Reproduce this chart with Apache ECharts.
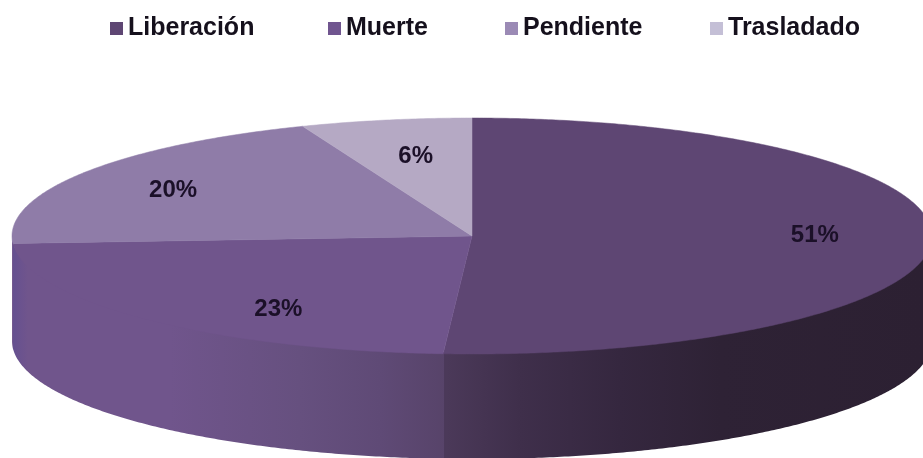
<!DOCTYPE html>
<html>
<head>
<meta charset="utf-8">
<style>html,body{margin:0;padding:0;background:#fff}#c{width:923px;height:458px}</style>
<script src="https://cdn.jsdelivr.net/npm/echarts@6/dist/echarts.min.js"></script>
</head>
<body>
<div id="c"></div>
<script>
const categories = ['Liberación', 'Muerte', 'Pendiente', 'Trasladado'];
const values = [51, 23, 20, 6];
const labels = ['51%', '23%', '20%', '6%'];
const topColors = ['#5e4673', '#70558c', '#8f7ca8', '#b5a9c4'];
const legendColors = ['#5e4673', '#70558f', '#9b8ab5', '#c4bfd6'];
const legendLeft = [105, 323, 500, 705];
const wallStops = [
  [[447, '#4b3959'], [520, '#3f2f4b'], [620, '#35273f'], [720, '#2e2235'], [923, '#2c2032']],
  [[13, '#655090'], [28, '#70558c'], [170, '#70558c'], [300, '#66507f'], [380, '#5f4a76'], [447, '#574369']],
  [[0, '#70558c'], [40, '#70558c']],
  [[0, '#70558c'], [40, '#70558c']]
];
const labelNudge = [[21, -3], [34, 15], [-27, -1], [4, 2]];

const cx = 472, cy = 236, rx = 460, ry = 118, depth = 105;
const total = values.reduce((a, b) => a + b, 0);
const TAU = Math.PI * 2;
const pt = (t, dy) => [cx + rx * Math.sin(t), cy - ry * Math.cos(t) + (dy || 0)];

function arc(a, b, dy) {
  const out = [];
  const n = Math.max(2, Math.ceil(Math.abs(b - a) * 120));
  for (let i = 0; i <= n; i++) out.push(pt(a + (b - a) * i / n, dy));
  return out;
}

function slice(i) {
  const before = values.slice(0, i).reduce((a, b) => a + b, 0);
  const a = before / total * TAU, b = (before + values[i]) / total * TAU;
  return { a, b };
}

function renderWall(i) {
  return function () {
    const s = slice(i);
    // walls overlap a hair so no seam shows between neighbours
    const a = Math.max(s.a - 0.002, Math.PI / 2), b = Math.min(s.b, Math.PI * 1.5);
    if (b <= a) return { type: 'group', children: [] };
    const pts = arc(a, b, -1.5).concat(arc(b, a, depth));
    const stops = wallStops[i];
    const x0 = stops[0][0], x1 = stops[stops.length - 1][0];
    const fill = new echarts.graphic.LinearGradient(x0, 0, x1, 0,
      stops.map(p => ({ offset: (p[0] - x0) / (x1 - x0), color: p[1] })), true);
    return { type: 'polygon', shape: { points: pts }, style: { fill: fill }, silent: true };
  };
}

function renderTop(i) {
  return function () {
    const s = slice(i);
    const pts = [[cx, cy]].concat(arc(s.a, s.b, 0));
    const mid = (s.a + s.b) / 2;
    const p = [cx + rx * 0.7 * Math.sin(mid) + labelNudge[i][0], cy - ry * 0.7 * Math.cos(mid) + labelNudge[i][1]];
    return {
      type: 'group',
      children: [
        { type: 'polygon', shape: { points: pts }, style: { fill: topColors[i], stroke: topColors[i], lineWidth: 0.5 }, z2: 1, silent: true },
        { type: 'text', x: p[0], y: p[1], z2: 5, silent: true,
          style: { text: labels[i], fill: '#1b1028', font: 'bold 24px "Liberation Sans", Arial, sans-serif', align: 'center', verticalAlign: 'middle' } }
      ]
    };
  };
}

const series = [];
categories.forEach((name, i) => {
  series.push({ type: 'custom', name: name, coordinateSystem: 'none', renderItem: renderWall(i), data: [[values[i]]], itemStyle: { color: legendColors[i] }, z: 1, animation: false, silent: true });
});
categories.forEach((name, i) => {
  series.push({ type: 'custom', name: name, coordinateSystem: 'none', renderItem: renderTop(i), data: [[values[i]]], itemStyle: { color: legendColors[i] }, z: 2, animation: false, silent: true });
});

const chart = echarts.init(document.getElementById('c'), null, { renderer: 'canvas' });
chart.setOption({
  backgroundColor: '#fff',
  animation: false,
  legend: categories.map((name, i) => ({
    left: legendLeft[i], top: 11, itemWidth: 13, itemHeight: 13, icon: 'rect',
    selectedMode: false,
    textStyle: { fontFamily: '"Liberation Sans", Arial, sans-serif', fontSize: 25, fontWeight: 'bold', color: '#15101c' },
    data: [{ name: name, itemStyle: { color: legendColors[i] } }]
  })),
  series: series
});
</script>
</body>
</html>
